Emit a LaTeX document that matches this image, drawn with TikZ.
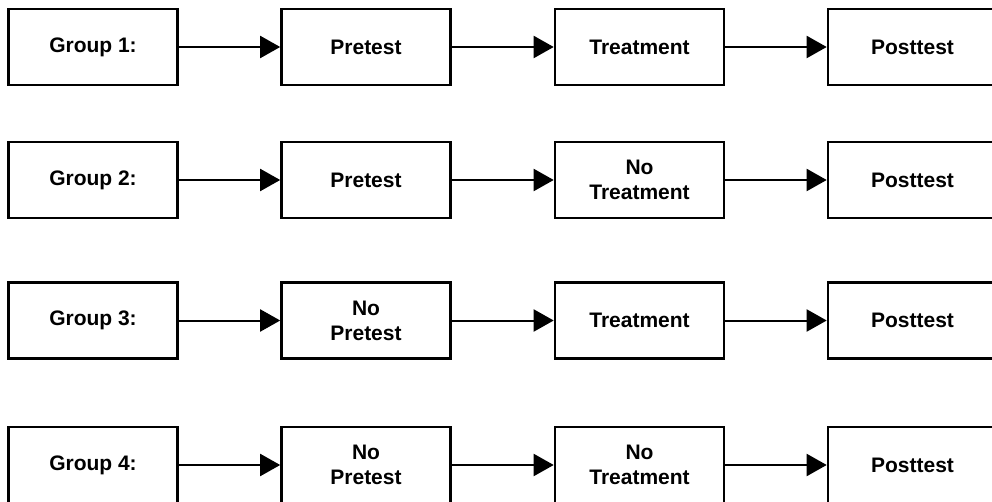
\documentclass[tikz,border=0pt]{standalone}
\usepackage{fontspec}
\setmainfont{Liberation Sans}
\usetikzlibrary{arrows.meta}
\begin{document}
\begin{tikzpicture}[
		x=1pt, y=-1pt,
		stage/.style={draw, line width=2.6pt, minimum width=169pt, minimum height=76pt,
				align=center, font=\fontsize{21}{25}\selectfont\bfseries},
		flow/.style={line width=2pt, -{Triangle[length=20pt,width=22pt]}}
	]
	\clip (0,0) rectangle (992,502);
	% group 1
	\node[stage] (g1) at (93,47) {Group 1:};
	\node[stage] (p1) at (366,47) {Pretest};
	\node[stage] (t1) at (639.5,47) {Treatment};
	\node[stage] (o1) at (912.5,47) {Posttest};
	% group 2
	\node[stage] (g2) at (93,180) {Group 2:};
	\node[stage] (p2) at (366,180) {Pretest};
	\node[stage] (t2) at (639.5,180) {No\\Treatment};
	\node[stage] (o2) at (912.5,180) {Posttest};
	% group 3
	\node[stage] (g3) at (93,320.5) {Group 3:};
	\node[stage] (p3) at (366,320.5) {No\\Pretest};
	\node[stage] (t3) at (639.5,320.5) {Treatment};
	\node[stage] (o3) at (912.5,320.5) {Posttest};
	% group 4
	\node[stage] (g4) at (93,465) {Group 4:};
	\node[stage] (p4) at (366,465) {No\\Pretest};
	\node[stage] (t4) at (639.5,465) {No\\Treatment};
	\node[stage] (o4) at (912.5,465) {Posttest};
	\foreach \r in {1,...,4} {
		\draw[flow] (g\r) -- (p\r);
		\draw[flow] (p\r) -- (t\r);
		\draw[flow] (t\r) -- (o\r);
	}
\end{tikzpicture}
\end{document}
